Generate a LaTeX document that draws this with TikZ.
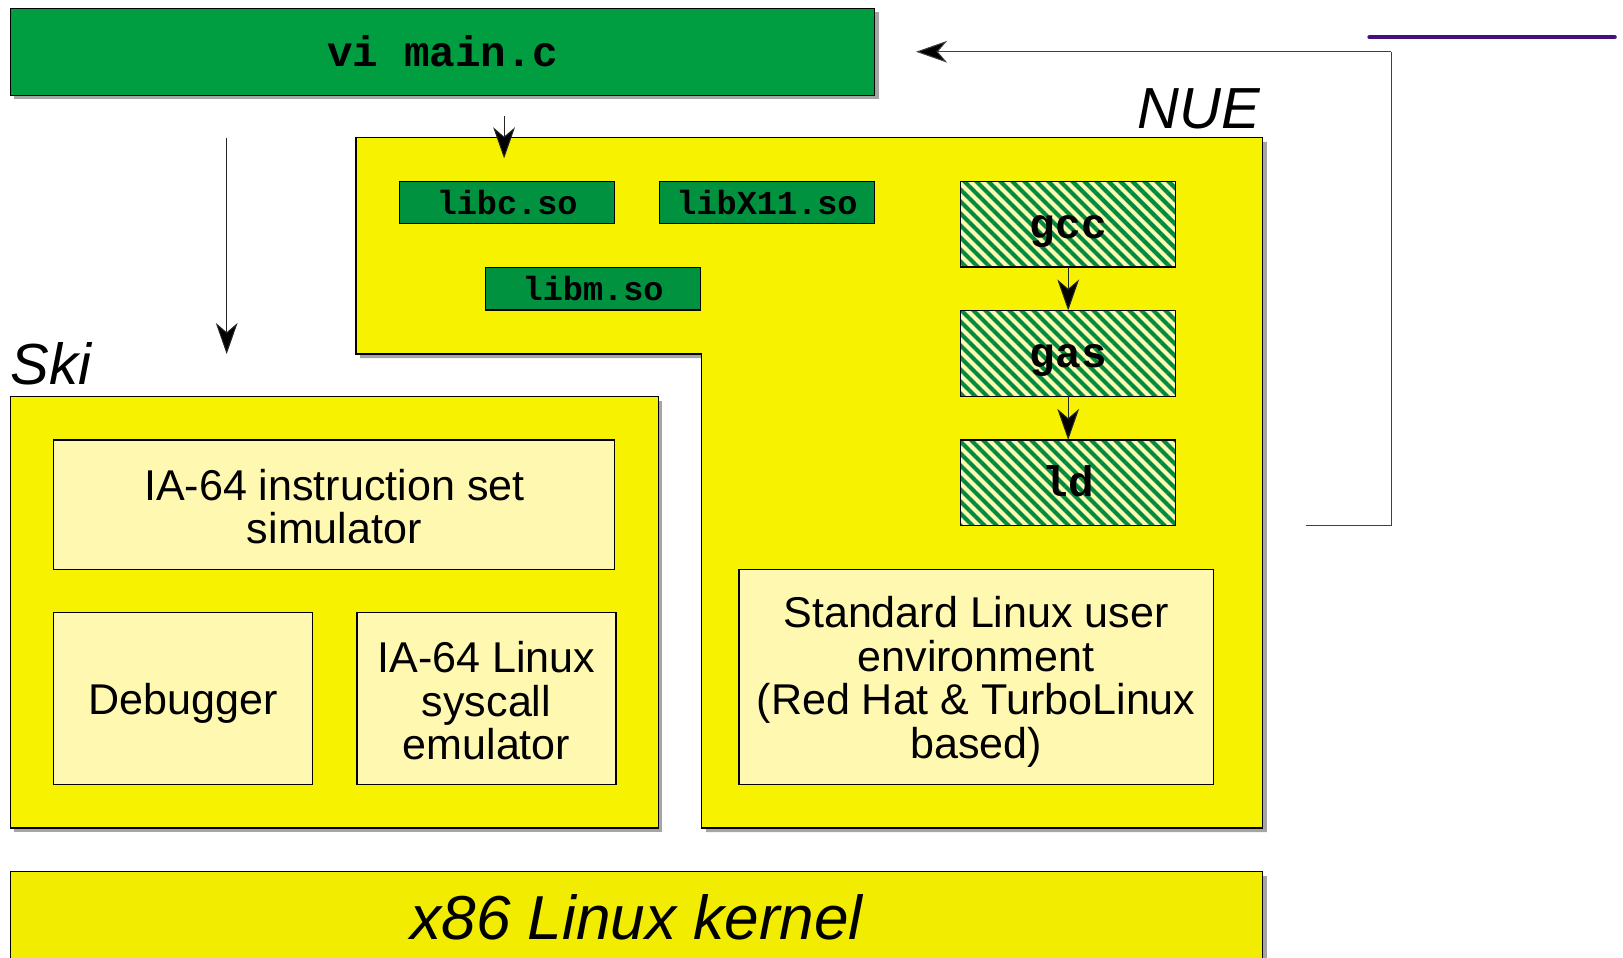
\documentclass[tikz,border=0pt]{standalone}
\usepackage{fontspec}
\setmainfont{Liberation Sans}
\setmonofont{Liberation Mono}
\usetikzlibrary{shadows,patterns.meta,arrows.meta}

\definecolor{boxgreen}{RGB}{0,158,64}
\definecolor{libgreen}{RGB}{0,146,63}
\definecolor{hatchgreen}{RGB}{0,140,64}
\definecolor{areayellow}{RGB}{247,242,0}
\definecolor{kernelyellow}{RGB}{241,236,0}
\definecolor{paleyellow}{RGB}{255,248,176}
\definecolor{shadowgrey}{RGB}{165,165,165}
\definecolor{rulepurple}{RGB}{68,16,128}

\newcommand{\sanstext}{\fontsize{20.8pt}{21pt}\selectfont}
\newcommand{\bigtitle}{\fontsize{28pt}{30pt}\selectfont\itshape}
\newcommand{\codebig}{\fontsize{20.6pt}{22pt}\selectfont\ttfamily\bfseries}
\newcommand{\codesmall}{\fontsize{16.2pt}{18pt}\selectfont\ttfamily\bfseries}
% invisible struts that lower a text block a little inside its box
\newcommand{\lowerstrut}{\rule{0pt}{20pt}}
\newcommand{\smallstrut}{\rule{0pt}{17pt}}

\begin{document}
\begin{tikzpicture}[x=0.5pt,y=-0.5pt,
  shadowed/.style={drop shadow={shadow xshift=2pt,shadow yshift=-2pt,fill=shadowgrey,opacity=1}},
  frame/.style={draw=black,line width=0.6pt},
  sized/.style 2 args={minimum width=#1,minimum height=#2},
  plainbox/.style={frame,inner sep=0pt,outer sep=0pt,align=center},
  editorbox/.style={plainbox,fill=boxgreen,shadowed,font=\codebig},
  libbox/.style={plainbox,fill=libgreen,font=\codesmall,sized={104pt}{20.5pt}},
  toolbox/.style={plainbox,preaction={fill=paleyellow},
    pattern={Lines[angle=-45,distance=4.1pt,line width=2pt]},pattern color=hatchgreen,
    font=\codebig,sized={104pt}{41.5pt},text height=18pt,text depth=4.5pt},
  partbox/.style={plainbox,fill=paleyellow,font=\sanstext},
  area/.style={frame,fill=areayellow,shadowed},
  flow/.style={draw=black!85,line width=0.5pt,-{Stealth[length=15pt,width=10.5pt,inset=4.5pt,fill=black]}},
  feedback/.style={draw=black!75,line width=0.5pt}
]
\useasboundingbox (0,0) rectangle (1568,925);

% editor at the top
\node[editorbox,sized={417.5pt}{42pt}] (vi) at (427.5,50) {vi main.c};

% NUE environment outline
\draw[area] (344,133) -- (1220,133) -- (1220,800) -- (678,800) -- (678,342) -- (344,342) -- cycle;
\node[font=\bigtitle,anchor=base east,inner sep=0pt] (nue) at (1218,124) {NUE};

% shared libraries
\node[libbox] (libc) at (490,195.5) {libc.so};
\node[libbox] (libx) at (741,195.5) {libX11.so};
\node[libbox] (libm) at (573,279) {libm.so};

% tool chain
\node[toolbox] (gcc) at (1032,216.5) {gcc};
\node[toolbox] (gas) at (1032,341.5) {gas};
\node[toolbox] (ld) at (1032,466.5) {ld};
\draw[flow] (gcc) -- (gas);
\draw[flow] (gas) -- (ld);

\node[partbox,sized={229pt}{104pt}] (userenv) at (943,654)
  {\lowerstrut Standard Linux user\\environment\\(Red Hat \& TurboLinux\\based)};

% Ski simulator
\node[font=\bigtitle,anchor=base west,inner sep=0pt] (skilabel) at (10,371) {Ski};
\node[frame,fill=areayellow,shadowed,inner sep=0pt,sized={313pt}{208.5pt}] (ski) at (323,591.5) {};
\node[partbox,sized={271pt}{62.5pt}] (iss) at (323,487.5) {\smallstrut IA-64 instruction set\\simulator};
\node[partbox,sized={125pt}{83pt}] (dbg) at (177,675) {\lowerstrut Debugger};
\node[partbox,sized={125pt}{83pt}] (sysemu) at (470,675) {\smallstrut IA-64 Linux\\syscall\\emulator};

% host kernel
\node[frame,fill=kernelyellow,shadowed,inner sep=0pt,sized={605pt}{44pt},
  font=\fontsize{30pt}{32pt}\selectfont\itshape] (kernel) at (615,886) {x86 Linux kernel};

% connectors
\coordinate (runA) at (219,133);
\coordinate (runB) at (219,342);
\draw[flow] (runA) -- (runB);

\coordinate (linkA) at (487,112);
\coordinate (linkB) at (487,153);
\draw[flow] (linkA) -- (linkB);

\coordinate (loopA) at (1262,508);
\coordinate (loopB) at (1344,508);
\coordinate (loopC) at (1344,50);
\coordinate (loopD) at (885,50);
\draw[feedback] (loopA) -- (loopB) -- (loopC);
\draw[flow,draw=black!75] (loopC) -- (loopD);

% accent rule
\coordinate (ruleA) at (1323,36);
\coordinate (ruleB) at (1560,36);
\draw[rulepurple,line width=2pt,line cap=round] (ruleA) -- (ruleB);
\end{tikzpicture}
\end{document}
